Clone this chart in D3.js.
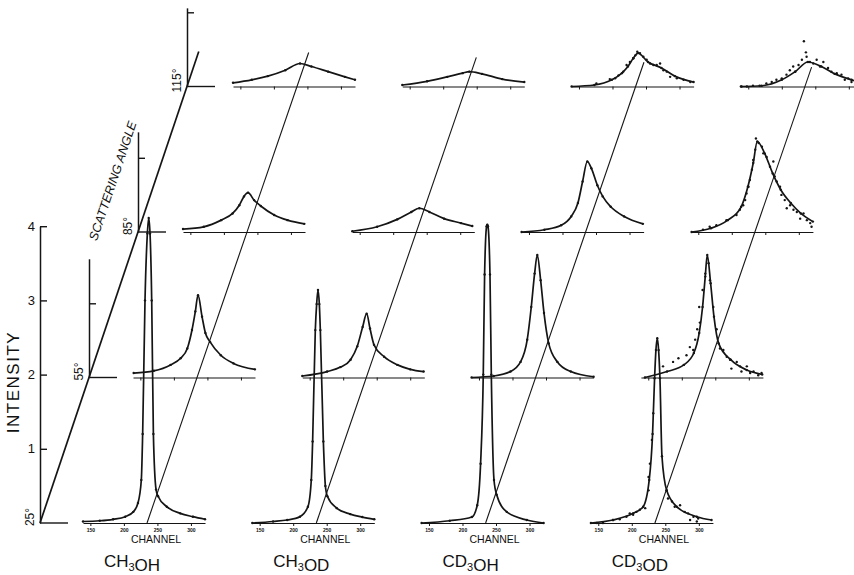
<!DOCTYPE html>
<html>
<head>
<meta charset="utf-8">
<script src="https://cdn.jsdelivr.net/npm/d3@7"></script>
<style>
  html, body { margin: 0; padding: 0; background: #fff; }
  svg { display: block; }
  text { font-family: "Liberation Sans", Arial, sans-serif; fill: #111; }
</style>
</head>
<body>
<svg id="chart" width="854" height="575"></svg>
<script>
// ---- data: quasi-elastic neutron spectra, [channel, intensity] ----
const molecules = ["CH3OH", "CH3OD", "CD3OH", "CD3OD"];
const angles = [25, 55, 85, 115];
const intensityTicks = [1, 2, 3, 4];
const channelTicks = [150, 200, 250, 300];
const elasticChannel = 234.5;
const guideTopAngle = [122, 121, 120, 119];
const subAxisTop = [4, 1.6, 1.35, 1.06];

// 25 degrees
const fit_CH3OH_25 = [[139,0.02],[164,0.03],[184,0.05],[202,0.085],[214,0.15],[221,0.27],[226,0.58],[228,1.2],[231.5,3.0],[235,3.9],[237,4.11],[239,3.9],[241.5,3.0],[244,1.2],[248,0.45],[251,0.36],[264,0.22],[284,0.13],[303,0.085],[321,0.05]];
const fit_CH3OD_25 = [[139,0.0],[170,0.02],[191,0.04],[210,0.085],[222,0.22],[227,0.58],[229,1.1],[233,2.6],[235,2.95],[237,3.14],[239,2.95],[240.5,2.6],[245,1.1],[248,0.5],[251,0.36],[265,0.2],[285,0.12],[303,0.08],[321,0.05]];
const fit_CD3OH_25 = [[139,0.0],[181,0.03],[214,0.08],[222,0.24],[227,0.8],[231,2.0],[233,3.35],[236,4.0],[237,4.02],[238,4.0],[241,3.35],[243,2.0],[247,0.58],[251,0.38],[266,0.15],[296,0.04],[321,0.0]];
const fit_CD3OD_25 = [[139,0.0],[172,0.04],[202,0.13],[217,0.22],[226,0.58],[231,1.2],[234,1.95],[236,2.33],[238,2.49],[240,2.33],[242,1.95],[245,0.9],[252,0.44],[267,0.22],[297,0.085],[319,0.04]];

// 55 degrees
const fit_CH3OH_55 = [[140,0.06],[170,0.09],[195,0.17],[210,0.26],[220,0.39],[227,0.64],[232,0.89],[236,1.11],[242,0.82],[247,0.6],[254,0.48],[270,0.3],[289,0.19],[321,0.11]];
const fit_CH3OD_55 = [[139,0.02],[176,0.08],[196,0.14],[211,0.24],[221,0.42],[229,0.68],[235,0.86],[240,0.66],[246,0.44],[261,0.28],[281,0.17],[300,0.11],[320,0.08]];
const fit_CD3OH_55 = [[139,0.0],[172,0.02],[197,0.08],[212,0.21],[222,0.51],[228,0.95],[233,1.4],[237,1.65],[242,1.31],[247,0.87],[254,0.46],[267,0.21],[287,0.08],[321,0.01]];
const fit_CD3OD_55 = [[145,0.0],[178,0.08],[203,0.17],[218,0.33],[226,0.6],[231,0.95],[235,1.36],[238,1.65],[243,1.27],[248,0.82],[255,0.46],[273,0.24],[297,0.1],[320,0.04]];

// 85 degrees
const fit_CH3OH_85 = [[139,0.04],[170,0.07],[196,0.16],[213,0.25],[223,0.36],[230,0.48],[236,0.53],[245,0.43],[255,0.35],[275,0.23],[295,0.16],[320,0.11]];
const fit_CH3OD_85 = [[139,0.01],[176,0.07],[206,0.17],[227,0.27],[239,0.32],[254,0.27],[276,0.18],[301,0.12],[318,0.08]];
const fit_CD3OH_85 = [[139,0.0],[173,0.03],[198,0.09],[213,0.21],[223,0.39],[230,0.68],[237,0.95],[243,0.86],[252,0.63],[260,0.48],[272,0.34],[292,0.21],[320,0.11]];
const fit_CD3OD_85 = [[140,0.0],[169,0.05],[194,0.16],[214,0.34],[224,0.61],[232,0.93],[238,1.22],[249,1.06],[261,0.79],[273,0.57],[288,0.39],[303,0.25],[321,0.14]];

// 115 degrees
const fit_CH3OH_115 = [[139,0.05],[167,0.09],[191,0.14],[217,0.22],[239,0.31],[256,0.27],[281,0.2],[306,0.13],[321,0.09]];
const fit_CH3OD_115 = [[139,0.02],[176,0.07],[206,0.13],[229,0.18],[239,0.2],[258,0.17],[288,0.1],[321,0.06]];
const fit_CD3OH_115 = [[139,0.0],[173,0.02],[199,0.09],[214,0.18],[223,0.27],[231,0.38],[238,0.45],[253,0.33],[273,0.25],[293,0.14],[321,0.06]];
const fit_CD3OD_115 = [[139,0.0],[170,0.01],[200,0.09],[220,0.2],[239,0.33],[259,0.27],[279,0.17],[304,0.09],[321,0.05]];

// measured counts where the scatter is large
const obs_CD3OD_25 = [[148,0.0],[157,0.0],[172,0.04],[182,0.05],[192,0.085],[197,0.13],[202,0.11],[207,0.15],[212,0.18],[220,0.2],[225,0.44],[225,0.62],[227,0.8],[230,1.12],[232,1.48],[252,0.44],[254,0.33],[260,0.29],[264,0.22],[272,0.24],[279,0.15],[284,0.13],[287,0.04],[292,0.085],[297,0.02],[299,0.06]];
const obs_CD3OD_55 = [[172,0.15],[187,0.21],[195,0.26],[207,0.3],[212,0.41],[217,0.37],[220,0.51],[223,0.65],[227,0.74],[226,0.95],[231,1.18],[235,1.4],[240,1.54],[242,1.31],[247,0.95],[252,0.65],[257,0.39],[262,0.37],[267,0.28],[272,0.24],[274,0.12],[282,0.21],[287,0.15],[289,0.08],[297,0.15],[302,0.06],[307,0.08],[314,0.03],[319,0.06]];
const obs_CD3OD_85 = [[157,0.03],[167,0.07],[177,0.09],[192,0.16],[207,0.23],[212,0.3],[217,0.36],[220,0.43],[222,0.52],[225,0.61],[227,0.7],[230,0.84],[232,0.97],[235,1.11],[236,1.26],[240,1.2],[245,1.15],[247,1.06],[252,1.01],[257,0.88],[262,0.95],[264,0.75],[267,0.68],[272,0.61],[274,0.5],[279,0.43],[282,0.32],[287,0.36],[292,0.3],[297,0.27],[302,0.18],[307,0.25],[312,0.16],[317,0.12],[319,0.07]];
const obs_CD3OD_115 = [[140,0.0],[148,0.0],[157,0.01],[167,0.01],[177,0.04],[185,0.06],[192,0.09],[200,0.11],[207,0.16],[212,0.22],[217,0.27],[220,0.2],[225,0.29],[230,0.36],[233,0.61],[236,0.46],[237,0.4],[242,0.33],[247,0.31],[252,0.36],[257,0.27],[262,0.33],[269,0.25],[274,0.2],[282,0.18],[289,0.16],[294,0.09],[299,0.11],[304,0.06]];
const obs_CD3OH_115 = [[176,0.04],[196,0.1],[204,0.11],[209,0.15],[216,0.2],[221,0.29],[226,0.33],[231,0.38],[234,0.42],[237,0.47],[241,0.45],[246,0.4],[251,0.36],[256,0.31],[261,0.29],[266,0.29],[271,0.31],[276,0.22],[281,0.2],[286,0.13],[296,0.11],[306,0.09],[316,0.06]];

// ---- assemble the panel table ----
const fits = {
  CH3OH: [fit_CH3OH_25, fit_CH3OH_55, fit_CH3OH_85, fit_CH3OH_115],
  CH3OD: [fit_CH3OD_25, fit_CH3OD_55, fit_CH3OD_85, fit_CH3OD_115],
  CD3OH: [fit_CD3OH_25, fit_CD3OH_55, fit_CD3OH_85, fit_CD3OH_115],
  CD3OD: [fit_CD3OD_25, fit_CD3OD_55, fit_CD3OD_85, fit_CD3OD_115]
};
const extraObs = {
  "CD3OD|25": obs_CD3OD_25, "CD3OD|55": obs_CD3OD_55,
  "CD3OD|85": obs_CD3OD_85, "CD3OD|115": obs_CD3OD_115,
  "CD3OH|115": obs_CD3OH_115
};
const panels = [];
molecules.forEach(m => angles.forEach((a, i) => {
  panels.push({ mol: m, angle: a, fit: fits[m][i], obs: fits[m][i].concat(extraObs[m + "|" + a] || []) });
}));

// ---- scales (oblique projection: angle runs up and to the right) ----
const svg = d3.select("#chart");
const ink = "#151515";
const chanX = d3.scaleLinear().domain([139, 321]).range([0, 122]);
const intY = d3.scaleLinear().domain([0, 4]).range([0, -296.8]);
const rowY = d3.scaleLinear().domain([25, 115]).range([523, 86.5]);
const rowShift = d3.scaleLinear().domain([25, 115]).range([0, 150]);
const angleAxisX = d3.scaleLinear().domain([25, 115]).range([40, 187]);
const molX = d3.scalePoint().domain(molecules).range([83, 83 + 169.3 * 3]);

// ---- scattering-angle axis ----
const angleEnd = 122.2;
svg.append("line")
  .attr("x1", angleAxisX(25)).attr("y1", rowY(25))
  .attr("x2", angleAxisX(angleEnd)).attr("y2", rowY(angleEnd))
  .attr("stroke", ink).attr("stroke-width", 1.7);

angles.forEach((a, i) => {
  const x = angleAxisX(a), y = rowY(a);
  // short floor stub
  svg.append("line").attr("x1", x).attr("y1", y).attr("x2", x + 28).attr("y2", y)
    .attr("stroke", ink).attr("stroke-width", 1.4);
  // intensity axis at this angle
  const yScale = d3.scaleLinear().domain([0, subAxisTop[i]]).range([y, y - subAxisTop[i] * 74.2]);
  const ax = d3.axisLeft(yScale)
    .tickValues(i === 0 ? intensityTicks : [1])
    .tickSizeInner(-7).tickSizeOuter(0).tickPadding(5)
    .tickFormat(i === 0 ? d3.format("d") : () => "");
  const g = svg.append("g").attr("transform", `translate(${x},0)`).call(ax);
  g.select(".domain").attr("stroke", ink).attr("stroke-width", 1.5);
  g.selectAll(".tick line").attr("stroke", ink).attr("stroke-width", 1.4);
  g.selectAll(".tick text").attr("font-size", 13).attr("font-family", "Liberation Sans, Arial, sans-serif").attr("fill", ink);
  // angle label
  svg.append("text")
    .attr("transform", `translate(${x - 10},${y - 6}) rotate(-90)`)
    .attr("text-anchor", "middle").attr("dominant-baseline", "central")
    .attr("font-size", 12).text(a + "°");
});

// ---- spectra panels ----
const line = d3.line().x(d => chanX(d[0])).y(d => intY(d[1])).curve(d3.curveMonotoneX);

panels.forEach(p => {
  const g = svg.append("g")
    .attr("transform", `translate(${molX(p.mol) + rowShift(p.angle)},${rowY(p.angle)})`);
  const ax = d3.axisBottom(chanX).tickValues(channelTicks)
    .tickSizeInner(3).tickSizeOuter(0).tickPadding(2)
    .tickFormat(p.angle === 25 ? d3.format("d") : () => "");
  const ag = g.append("g").call(ax);
  ag.select(".domain").attr("stroke", ink).attr("stroke-width", 1.1);
  ag.selectAll(".tick line").attr("stroke", ink).attr("stroke-width", 1);
  ag.selectAll(".tick text").attr("font-size", 5).attr("font-weight", "bold").attr("fill", ink);

  g.append("path").datum(p.fit).attr("d", line)
    .attr("fill", "none").attr("stroke", ink).attr("stroke-width", 1.7)
    .attr("stroke-linejoin", "round");
  g.selectAll("circle").data(p.obs).join("circle")
    .attr("cx", d => chanX(d[0])).attr("cy", d => intY(d[1]))
    .attr("r", 1.2).attr("fill", ink);
});

// ---- constant-channel guide lines through the angle rows ----
molecules.forEach((m, i) => {
  const pt = a => [molX(m) + rowShift(a) + chanX(elasticChannel), rowY(a)];
  const [x1, y1] = pt(25), [x2, y2] = pt(guideTopAngle[i]);
  svg.append("line").attr("x1", x1).attr("y1", y1).attr("x2", x2).attr("y2", y2)
    .attr("stroke", ink).attr("stroke-width", 1.1);
});

// ---- labels ----
molecules.forEach(m => {
  const x0 = molX(m);
  svg.append("text").attr("x", x0 + 73).attr("y", 543)
    .attr("text-anchor", "middle").attr("font-size", 10.5).text("CHANNEL");
  const t = svg.append("text").attr("x", x0 + 49).attr("y", 567)
    .attr("text-anchor", "middle").attr("font-size", 17);
  m.split(/(\d)/).filter(s => s).forEach(s => {
    const isNum = /\d/.test(s);
    t.append("tspan").text(s)
      .attr("font-size", isNum ? 11 : 17)
      .attr("dy", isNum ? 4 : null);
    if (isNum) t.append("tspan").attr("dy", -4).text("");
  });
});

svg.append("text")
  .attr("transform", "translate(13,382) rotate(-90)")
  .attr("text-anchor", "middle").attr("dominant-baseline", "central")
  .attr("font-size", 17).attr("letter-spacing", 1.5).text("INTENSITY");

svg.append("text")
  .attr("transform", "translate(113,181) rotate(-71.4)")
  .attr("text-anchor", "middle").attr("dominant-baseline", "central")
  .attr("font-size", 12.5).attr("font-style", "italic").text("SCATTERING ANGLE");
</script>
</body>
</html>
